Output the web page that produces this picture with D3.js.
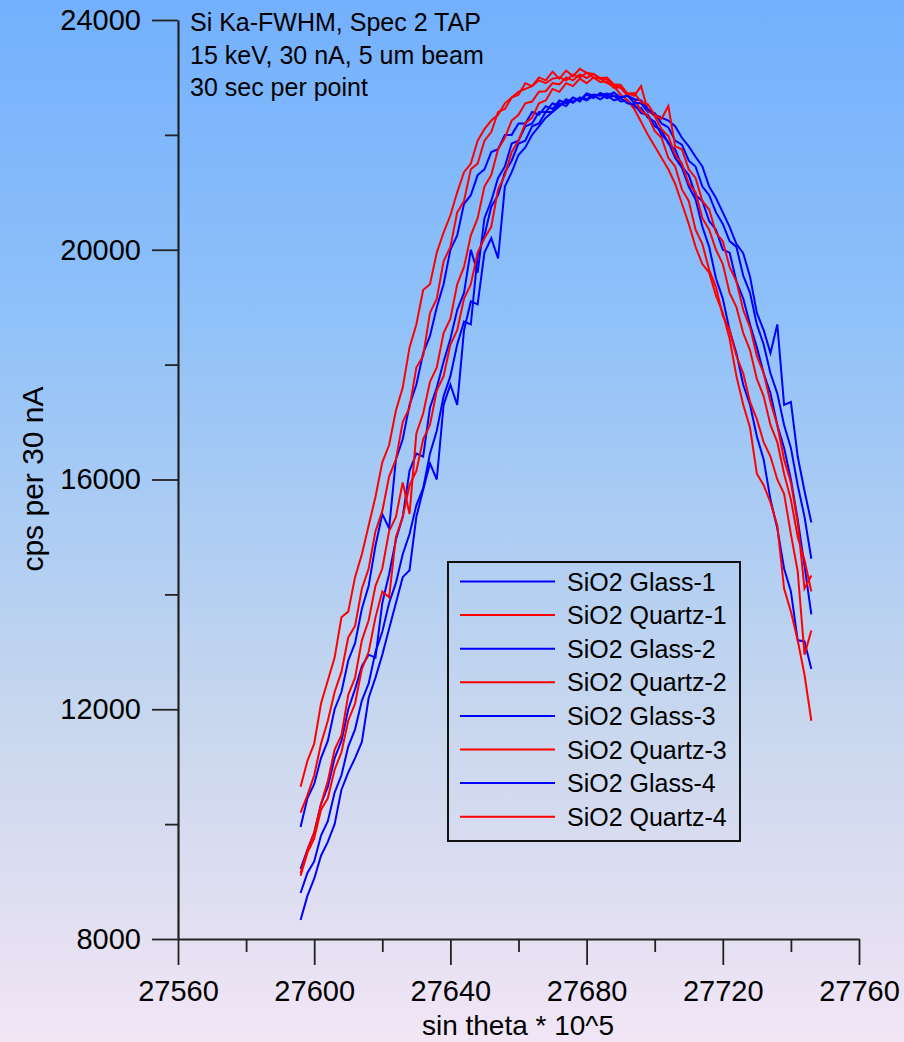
<!DOCTYPE html>
<html><head><meta charset="utf-8">
<script src="https://cdn.jsdelivr.net/npm/d3@7"></script>
<style>html,body{margin:0;padding:0;background:#fff;} svg{display:block;}</style>
</head><body><svg id="c" width="904" height="1042"></svg>
<script>
const xValues=[27596,27598,27600,27602,27604,27606,27608,27610,27612,27614,27616,27618,27620,27622,27624,27626,27628,27630,27632,27634,27636,27638,27640,27642,27644,27646,27648,27650,27652,27654,27656,27658,27660,27662,27664,27666,27668,27670,27672,27674,27676,27678,27680,27682,27684,27686,27688,27690,27692,27694,27696,27698,27700,27702,27704,27706,27708,27710,27712,27714,27716,27718,27720,27722,27724,27726,27728,27730,27732,27734,27736,27738,27740,27742,27744,27746];
const glass1=[9950,10450,10700,11150,11450,12000,12300,12850,13150,13750,14150,14850,15400,15150,16350,16700,17300,17650,18200,18500,19000,19400,20000,20250,20800,20950,21300,21400,21700,21750,22000,22000,22200,22200,22400,22350,22500,22450,22600,22550,22650,22600,22720,22680,22700,22640,22680,22580,22600,22480,22470,22300,22230,22000,21880,21600,21430,21100,20880,20400,20050,19500,19150,18600,18200,17650,17300,16750,16350,15650,15150,14450,14050,13200,13180,12700];
const quartz1=[10650,11100,11400,12100,12500,12900,13600,13700,14300,14700,15200,15700,16300,16600,17200,17600,18300,18700,19300,19400,19950,20300,20600,21000,21350,21500,21900,22100,22250,22350,22550,22650,22750,22800,22850,22950,22900,22980,23000,22950,23050,23000,23080,23000,22980,22900,22850,22700,22600,22450,22230,22000,21800,21600,21400,21150,20800,20450,20050,19750,19600,19200,18900,18450,17800,17300,16900,16100,15900,15600,15200,14100,13700,13200,12600,11800];
const glass2=[9220,9550,9850,10350,10650,11150,11450,12000,12350,12750,12950,12900,13850,14350,14950,15350,16150,16450,16400,17250,17600,18050,18450,18950,19250,20000,19600,20550,20850,21250,21450,21850,21900,22150,22200,22400,22400,22550,22500,22620,22560,22650,22600,22680,22620,22690,22600,22640,22550,22530,22380,22350,22150,22080,21850,21750,21450,21300,20950,20850,20500,20350,20000,19950,19450,19150,18700,18300,17850,17500,16950,16550,16000,15300,14500,13650];
const quartz2=[10200,10500,10850,11400,11800,12300,12650,13250,13450,14100,14450,15100,15450,16050,16350,17000,17250,17950,18150,18900,19150,19800,20050,20650,20850,21400,21500,21900,22050,22400,22450,22650,22700,22900,22850,23000,22950,23100,22980,23120,23020,23150,23080,23060,22980,22970,22870,22820,22680,22620,22420,22330,22070,21950,21600,21450,21050,20850,20350,20100,19650,19350,18850,18600,18150,17850,17350,17050,16650,16400,16000,15750,15050,14400,12950,13370];
const glass3=[8800,9150,9350,9800,10050,10550,10850,11350,11650,12150,12450,13000,13350,13850,14200,14700,15050,15550,15850,16450,16850,17450,17800,18350,18750,18700,19900,20250,20750,20950,21350,21550,21850,21900,22150,22200,22400,22400,22550,22500,22650,22580,22700,22640,22730,22680,22740,22650,22680,22560,22550,22400,22380,22200,22130,21900,21830,21550,21450,21100,20950,20650,20450,20150,20050,19550,19250,18700,18350,17850,17500,16950,16550,15900,15350,14620];
const quartz3=[9150,9550,9850,10350,10750,11300,11550,12250,12550,13200,13550,14150,14450,15100,15350,15950,15400,16800,17150,17700,17950,18550,18800,19400,19700,20250,20550,21100,21300,21750,21950,22250,22350,22550,22580,22750,22760,22900,22880,23000,22950,23050,22990,23060,22990,23000,22880,22870,22720,22680,22850,22420,22330,22100,21980,21650,21500,21150,21000,20550,20350,20000,19750,19250,19000,18550,18250,17750,17450,16950,16650,16100,15650,15000,14600,14050];
const glass4=[8330,8750,9050,9450,9690,10000,10600,10900,11150,11430,12200,12550,12950,13400,13850,14300,14420,15350,15820,16280,16000,17300,17650,17300,18600,19100,19050,19950,20200,19850,21100,21350,21650,21780,22000,22150,22300,22400,22500,22600,22580,22650,22620,22700,22680,22720,22680,22650,22680,22620,22600,22450,22350,22300,22250,22150,21950,21800,21620,21450,21100,20900,20650,20400,20100,19940,19530,18900,18600,18200,18700,17300,17350,16400,15800,15250];
const quartz4=[9100,9500,9750,10250,10450,10950,11250,11800,12100,12700,13000,13600,14050,13950,15000,15350,15900,16150,16700,16950,17550,17800,18350,18600,19150,19400,19950,20200,20400,21050,21300,21700,21900,22200,22300,22550,22600,22800,22750,22900,22850,22980,22900,23000,22920,22930,22820,22830,22720,22730,22570,22530,22350,22280,22500,21800,21750,21400,21250,20850,20700,20300,20150,19700,19450,18950,18650,18150,17850,17350,16950,16350,15950,15250,14100,14330];

const seriesNames=["SiO2 Glass-1","SiO2 Quartz-1","SiO2 Glass-2","SiO2 Quartz-2","SiO2 Glass-3","SiO2 Quartz-3","SiO2 Glass-4","SiO2 Quartz-4"];
const seriesValues=[glass1,quartz1,glass2,quartz2,glass3,quartz3,glass4,quartz4];
const seriesColors=["#0000ff","#ff0000","#0000ff","#ff0000","#0000ff","#ff0000","#0000ff","#ff0000"];
const xTicks=[27560,27600,27640,27680,27720,27760];
const xMinorTicks=[27580,27620,27660,27700,27740];
const yTicks=[8000,12000,16000,20000,24000];
const yMinorTicks=[10000,14000,18000,22000];
const noteLines=["Si Ka-FWHM, Spec 2 TAP","15 keV, 30 nA, 5 um beam","30 sec per point"];
const xTitle="sin theta * 10^5";
const yTitle="cps per 30 nA";

const W=904,H=1042;
const svg=d3.select("#c");
const FONT="'Liberation Sans', Arial, sans-serif";

const defs=svg.append("defs");
const grad=defs.append("linearGradient").attr("id","bg").attr("x1",0).attr("y1",0).attr("x2",0).attr("y2",1);
[[0,"#73b0fd"],[0.3,"#8fc1f9"],[0.69,"#c8d7ee"],[0.9,"#e4e0f2"],[1,"#f2e6f6"]].forEach(s=>grad.append("stop").attr("offset",s[0]).attr("stop-color",s[1]));
svg.append("rect").attr("width",W).attr("height",H).attr("fill","url(#bg)");

const x=d3.scaleLinear().domain([27560,27760]).range([178,859]);
const y=d3.scaleLinear().domain([8000,24000]).range([939,20]);

// lines
const line=d3.line().x(d=>x(d[0])).y(d=>y(d[1]));
seriesValues.forEach((vals,i)=>{
  svg.append("path").datum(xValues.map((xv,j)=>[xv,vals[j]]))
    .attr("d",line).attr("fill","none").attr("stroke",seriesColors[i])
    .attr("stroke-width",2).attr("stroke-linejoin","miter");
});

// axes
const axCol="#222";
function styleAxis(g){
  g.select(".domain").attr("stroke",axCol).attr("stroke-width",2.2);
  g.selectAll(".tick line").attr("stroke",axCol).attr("stroke-width",1.8);
  g.selectAll("text").attr("fill","#000").style("font-family",FONT);
}
const gy=svg.append("g").attr("transform","translate(178,0)");
gy.call(d3.axisLeft(y).tickValues(yTicks).tickSize(26).tickSizeOuter(0).tickPadding(11).tickFormat(d3.format("d")));
styleAxis(gy);
gy.selectAll("text").style("font-size","29px");
const gym=svg.append("g").attr("transform","translate(178,0)");
gym.call(d3.axisLeft(y).tickValues(yMinorTicks).tickSize(13).tickSizeOuter(0).tickFormat(""));
styleAxis(gym); gym.select(".domain").remove();

const gx=svg.append("g").attr("transform","translate(0,939)");
gx.call(d3.axisBottom(x).tickValues(xTicks).tickSize(26).tickSizeOuter(0).tickPadding(15).tickFormat(d3.format("d")));
styleAxis(gx);
gx.selectAll("text").style("font-size","29px");
const gxm=svg.append("g").attr("transform","translate(0,939)");
gxm.call(d3.axisBottom(x).tickValues(xMinorTicks).tickSize(13).tickSizeOuter(0).tickFormat(""));
styleAxis(gxm); gxm.select(".domain").remove();

// titles
svg.append("text").attr("x",518).attr("y",1035).attr("text-anchor","middle")
  .style("font-family",FONT).style("font-size","28px").text(xTitle);
svg.append("text").attr("transform","translate(43,479) rotate(-90)").attr("text-anchor","middle")
  .style("font-family",FONT).style("font-size","30px").text(yTitle);

// note
svg.append("g").selectAll("text").data(noteLines).join("text")
  .attr("x",190).attr("y",(d,i)=>31+i*32.5)
  .style("font-family",FONT).style("font-size","25px").text(d=>d);

// legend
const lg=svg.append("g");
lg.append("rect").attr("x",448).attr("y",562).attr("width",292).attr("height",279)
  .attr("fill","none").attr("stroke","#111").attr("stroke-width",2);
const rows=lg.selectAll("g.row").data(seriesNames).join("g").attr("class","row")
  .attr("transform",(d,i)=>`translate(0,${581.5+i*33.6})`);
rows.append("line").attr("x1",460).attr("x2",555).attr("y1",0).attr("y2",0)
  .attr("stroke",(d,i)=>seriesColors[i]).attr("stroke-width",2);
rows.append("text").attr("x",567).attr("y",0).attr("dy","0.36em")
  .style("font-family",FONT).style("font-size","25px").text(d=>d);
</script></body></html>
